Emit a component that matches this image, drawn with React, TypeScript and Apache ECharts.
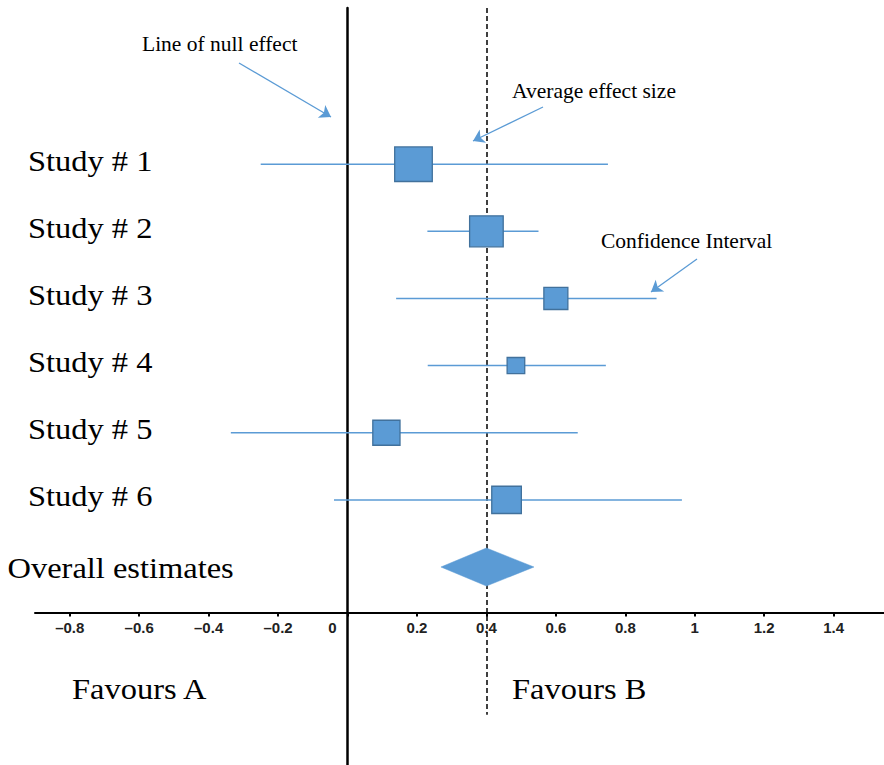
import React, { useEffect, useRef } from 'react';
import * as echarts from 'echarts';

// ---- data ----
const studyLabels = ['Study # 1', 'Study # 2', 'Study # 3', 'Study # 4', 'Study # 5', 'Study # 6'];
const estimates = [0.19, 0.4, 0.6, 0.485, 0.112, 0.458];
const ciLow = [-0.25, 0.23, 0.14, 0.231, -0.336, -0.039];
const ciHigh = [0.75, 0.55, 0.89, 0.744, 0.663, 0.963];
const weights = [23.5, 21, 15, 11, 17, 18.5];
const overallLabel = 'Overall estimates';
const overallEstimate = 0.4;
const overallLow = 0.269;
const overallHigh = 0.537;
const tickValues = [-0.8, -0.6, -0.4, -0.2, 0, 0.2, 0.4, 0.6, 0.8, 1, 1.2, 1.4];
const sideLabels = ['Favours A', 'Favours B'];
const annotations = ['Line of null effect', 'Average effect size', 'Confidence Interval'];

// ---- layout constants ----
const X_MIN = -0.9;
const X_MAX = 1.545;
const Y_MIN = -2.3265;
const Y_MAX = 8.949;
const DASH_END = 8.2;
const BLUE = '#5B9BD5';
const BLUE_DARK = '#41719C';
const SERIF = "'Liberation Serif', 'Times New Roman', serif";
const LABEL_X = 28;
const OVERALL_LABEL_X = 7.5;
const LABEL_DY = -3;
const LABEL_SCALE = 1.12;

export default function App() {
  const ref = useRef<HTMLDivElement>(null);

  useEffect(() => {
    if (!ref.current) return;
    const chart = echarts.init(ref.current, undefined, { renderer: 'svg' });

    const studyData = studyLabels.map((_, i) => [i, estimates[i], ciLow[i], ciHigh[i], weights[i]]);
    const overallRow = studyLabels.length;

    const rowText = (text: string, x: number, y: number) => ({
      type: 'text',
      x,
      y,
      scaleX: LABEL_SCALE,
      style: {
        text,
        fontFamily: SERIF,
        fontSize: 29,
        fill: '#000',
        align: 'left',
        verticalAlign: 'middle',
      },
    });

    const annText = (text: string, x: number, y: number) => ({
      type: 'text',
      x,
      y,
      style: {
        text,
        fontFamily: SERIF,
        fontSize: 21.5,
        fill: '#000',
        align: 'left',
        verticalAlign: 'middle',
      },
    });

    const option: any = {
      animation: false,
      backgroundColor: '#ffffff',
      grid: { left: 35, right: 0, top: 8, bottom: 0, containLabel: false },
      xAxis: {
        type: 'value',
        min: X_MIN,
        max: X_MAX,
        position: 'bottom',
        offset: -152.5,
        axisLine: { show: true, onZero: false, lineStyle: { color: '#000', width: 2 } },
        axisTick: { show: true, customValues: tickValues, length: 4, lineStyle: { color: '#000', width: 2 } },
        axisLabel: {
          customValues: tickValues,
          margin: 7,
          fontFamily: "'Liberation Sans', Arial, sans-serif",
          fontWeight: 'bold',
          fontSize: 15,
          color: '#222',
          formatter: (v: number) => (v === 0 ? '{z|0}' : String(v).replace('-', '\u2013')),
          rich: {
            z: {
              padding: [0, 30, 0, 0],
              fontFamily: "'Liberation Sans', Arial, sans-serif",
              fontWeight: 'bold',
              fontSize: 15,
              color: '#222',
            },
          },
        },
        splitLine: { show: false },
      },
      yAxis: {
        type: 'value',
        inverse: true,
        min: Y_MIN,
        max: Y_MAX,
        axisLine: { show: true, onZero: true, lineStyle: { color: '#000', width: 2.5 } },
        axisTick: { show: false },
        axisLabel: { show: false },
        splitLine: { show: false },
      },
      series: [
        {
          type: 'line',
          data: [],
          z: 1,
          silent: true,
          markLine: {
            z: 1,
            silent: true,
            animation: false,
            label: { show: false },
            symbol: ['none', 'none'],
            lineStyle: { color: '#000', width: 1.5, type: [5, 3] },
            data: [
              [
                { coord: [overallEstimate, Y_MIN] },
                { coord: [overallEstimate, DASH_END] },
              ],
            ],
          },
        },
        {
          type: 'custom',
          name: 'studies',
          z: 3,
          data: studyData,
          encode: { x: [1, 2, 3], y: 0 },
          renderItem: (params: any, api: any) => {
            const row = api.value(0);
            const est = api.value(1);
            const lo = api.value(2);
            const hi = api.value(3);
            const w = api.value(4);
            const pLo = api.coord([lo, row]);
            const pHi = api.coord([hi, row]);
            const pE = api.coord([est, row]);
            const bw = w * 1.6;
            const bh = bw * 0.92;
            return {
              type: 'group',
              children: [
                {
                  type: 'line',
                  shape: { x1: pLo[0], y1: pLo[1], x2: pHi[0], y2: pHi[1] },
                  style: { stroke: BLUE, lineWidth: 1.5 },
                },
                {
                  type: 'rect',
                  shape: { x: pE[0] - bw / 2, y: pE[1] - bh / 2, width: bw, height: bh },
                  style: { fill: BLUE, stroke: BLUE_DARK, lineWidth: 1.3 },
                },
                rowText(studyLabels[params.dataIndex], LABEL_X, pE[1] + LABEL_DY),
              ],
            };
          },
        },
        {
          type: 'custom',
          name: 'overall',
          z: 3,
          data: [[overallRow, overallEstimate, overallLow, overallHigh]],
          encode: { x: [1, 2, 3], y: 0 },
          renderItem: (_params: any, api: any) => {
            const row = api.value(0);
            const pE = api.coord([api.value(1), row]);
            const pLo = api.coord([api.value(2), row]);
            const pHi = api.coord([api.value(3), row]);
            const h = 19;
            return {
              type: 'group',
              children: [
                {
                  type: 'polygon',
                  shape: {
                    points: [
                      [pLo[0], pLo[1]],
                      [pE[0], pE[1] - h],
                      [pHi[0], pHi[1]],
                      [pE[0], pE[1] + h],
                    ],
                  },
                  style: { fill: BLUE, stroke: BLUE, lineWidth: 0.5 },
                },
                rowText(overallLabel, OVERALL_LABEL_X, pE[1] + 2),
              ],
            };
          },
          markLine: {
            silent: true,
            animation: false,
            label: { show: false },
            symbol: ['none', 'arrow'],
            symbolSize: 11,
            lineStyle: { color: BLUE, width: 1.3, type: 'solid' },
            data: [
              [{ x: 239, y: 63 }, { x: 331, y: 117 }],
              [{ x: 543, y: 107 }, { x: 473, y: 141 }],
              [{ x: 697, y: 259 }, { x: 651, y: 292 }],
            ],
          },
        },
      ],
      graphic: [
        {
          type: 'text',
          x: 72,
          y: 689.5,
          scaleX: LABEL_SCALE,
          style: { text: sideLabels[0], fontFamily: SERIF, fontSize: 29, fill: '#000', align: 'left', verticalAlign: 'middle' },
        },
        {
          type: 'text',
          x: 512,
          y: 689.5,
          scaleX: LABEL_SCALE,
          style: { text: sideLabels[1], fontFamily: SERIF, fontSize: 29, fill: '#000', align: 'left', verticalAlign: 'middle' },
        },
        annText(annotations[0], 142, 44),
        annText(annotations[1], 512, 91),
        annText(annotations[2], 601, 241),
      ],
    };

    chart.setOption(option);
    return () => {
      chart.dispose();
    };
  }, []);

  return (
    <div
      ref={ref}
      style={{ position: 'fixed', left: 0, top: 0, width: 884, height: 765, background: '#fff' }}
    />
  );
}
